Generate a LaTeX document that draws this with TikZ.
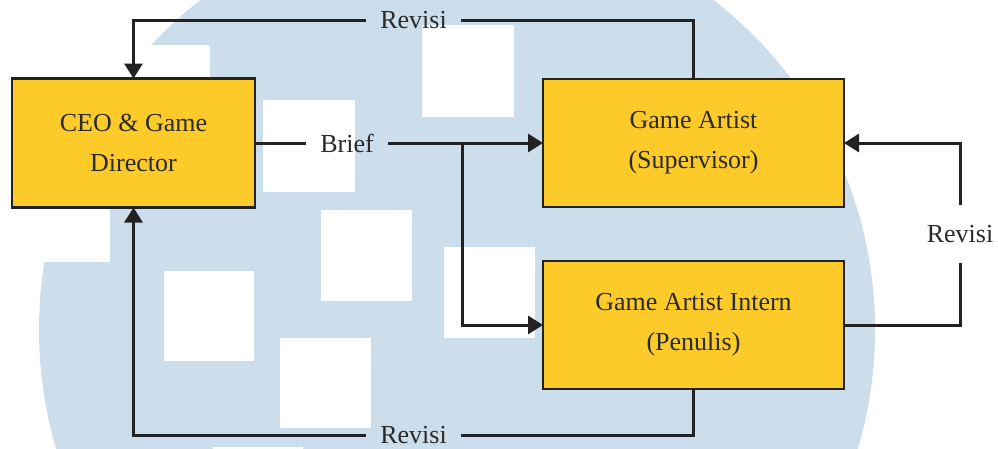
\documentclass[tikz,border=0pt]{standalone}
\usepackage{fontspec}
\setmainfont{Liberation Serif}
\usetikzlibrary{arrows.meta}
\definecolor{bgblue}{HTML}{CCDDEC}
\definecolor{boxyellow}{HTML}{FCCB2A}
\definecolor{linegray}{HTML}{222222}
\definecolor{textgray}{HTML}{2A2A2A}
\begin{document}
\begin{tikzpicture}[x=1pt,y=-1pt,
  box/.style={draw=linegray, line width=2.1pt, fill=boxyellow, inner sep=0pt, outer sep=0pt, align=center, font=\fontsize{26}{40}\selectfont, text=textgray},
  lbl/.style={font=\fontsize{26}{30}\selectfont, text=textgray, inner sep=0pt, outer sep=0pt},
  conn/.style={draw=linegray, line width=3pt},
  arr/.style={-{Triangle[length=15pt,width=18pt]}},
  wsq/.style={fill=white, draw=none}]
\useasboundingbox (0,0) rectangle (998,448);
% background watermark
\begin{scope}
  \clip (0,0) rectangle (998,448);
  \fill[bgblue] (457,330) circle (418pt);
  \fill[wsq] (0,45) rectangle (210,207);
  \fill[wsq] (0,150) rectangle (110,262);
  \fill[wsq] (422,25) rectangle (514,117);
  \fill[wsq] (263,100) rectangle (355,192);
  \fill[wsq] (321,210) rectangle (412,301);
  \fill[wsq] (164,271) rectangle (254,361);
  \fill[wsq] (280,338) rectangle (371,428);
  \fill[wsq] (444,247) rectangle (535,338);
  \fill[wsq] (213,447) rectangle (303,538);
\end{scope}
% boxes
\node[box, minimum width=243pt, minimum height=129pt] (ceo) at (133.5,143) {CEO \& Game\\Director};
\node[box, minimum width=301pt, minimum height=128pt] (ga) at (693.5,143) {Game Artist\\(Supervisor)};
\node[box, minimum width=301pt, minimum height=128pt] (intern) at (693.5,325) {Game Artist Intern\\(Penulis)};
% labels
\node[lbl, inner xsep=14pt] (revtop) at (413.5,20) {Revisi};
\node[lbl, inner xsep=14pt] (brief) at (347,143) {Brief};
\node[lbl, inner ysep=20pt] (revright) at (960,234) {Revisi};
\node[lbl, inner xsep=14pt] (revbot) at (413.5,435) {Revisi};
\coordinate (split) at (462,143);
% connectors
\draw[conn] (ga.north) |- (revtop.east);
\draw[conn, arr] (revtop.west) -| (ceo.north);
\draw[conn] (ceo.east) -- (brief.west);
\draw[conn, arr] (brief.east) -- (ga.west);
\draw[conn, arr] (split) |- (intern.west);
\draw[conn] (intern.east) -| (revright.south);
\draw[conn, arr] (revright.north) |- (ga.east);
\draw[conn] (intern.south) |- (revbot.east);
\draw[conn, arr] (revbot.west) -| (ceo.south);
\end{tikzpicture}
\end{document}
